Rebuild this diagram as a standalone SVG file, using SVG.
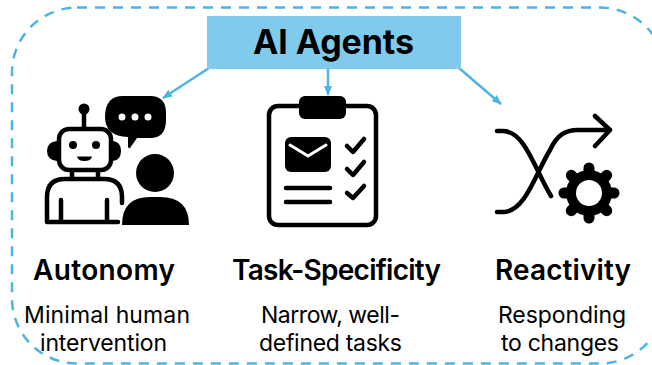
<svg xmlns="http://www.w3.org/2000/svg" width="652" height="365" viewBox="0 0 652 365">
<style>
.ln{fill:none;stroke:#4db5e6;stroke-width:2.500}
.ic{fill:none;stroke:#000;stroke-width:4.500;stroke-linecap:round;stroke-linejoin:round}
.f{fill:#000}
.w{fill:#fff}
.t{font-family:"Inter","Liberation Sans",sans-serif;text-anchor:middle;fill:#000}
.h{font-size:28px;font-weight:600}
.s{font-size:23px}
</style>
<defs><marker id="a" markerWidth="10" markerHeight="8" refX="9" refY="4" orient="auto" markerUnits="userSpaceOnUse"><path d="M0 0L10 4L0 8z" fill="#4db5e6"/></marker></defs>
<rect width="652" height="365" fill="#fff"/>
<rect id="frame" x="12" y="7.500" width="653" height="356" rx="65" fill="none" stroke="#4db5e6" stroke-width="2.500" stroke-dasharray="10 8"/>
<g id="connectors">
<path class="ln" d="M209 68L163 98" marker-end="url(#a)"/>
<path class="ln" d="M328 68V95" marker-end="url(#a)"/>
<path class="ln" d="M459 68L501 104" marker-end="url(#a)"/>
</g>
<g id="title"><rect x="207" y="16" width="254" height="53" fill="#80caec"/><text class="t" x="333.500" y="54" textLength="161" style="font-size:34px;font-weight:700">AI Agents</text></g>
<g id="autonomy">
<path class="f" d="M123 96H150Q166 96 166 113V120Q166 138 150 138H137L130 148Q128 149 128 146V137Q105 136 105 117Q105 96 123 96Z"/>
<g class="w"><circle cx="122" cy="117" r="3.500"/><circle cx="135" cy="117" r="3.500"/><circle cx="148" cy="117" r="3.500"/></g>
<circle class="f" cx="84" cy="109" r="5.500"/><path class="ic" d="M84 110V128"/>
<rect class="ic" x="59" y="129" width="52" height="41" rx="10"/>
<path class="f" d="M57 141V161Q47 160 47 151Q47 142 57 141ZM113 141V161Q121 160 121 151Q121 142 113 141Z"/>
<circle class="f" cx="73" cy="145" r="4"/><circle class="f" cx="96" cy="145" r="4"/><path class="f" d="M77 156.500H92Q91 161 84.500 161Q78 161 77 156.500Z"/>
<path class="ic" d="M72 172V179M98 172V179M118 222H47V197Q47 179 65 179H104Q122 179 122 197V203M61 200V222M107 200V222"/>
<circle class="f" cx="155" cy="173" r="19"/>
<path class="f" d="M122 225Q122 197 150 197H160Q189 197 189 225Z"/>
</g>
<g id="task">
<rect class="ic" x="269" y="106" width="107" height="119" rx="9"/>
<rect class="f" x="299" y="96" width="47" height="23" rx="6"/>
<rect class="f" x="285" y="137" width="46" height="35" rx="6"/>
<path d="M290 145L308 156L326 145" fill="none" stroke="#fff" stroke-width="3" stroke-linecap="round" stroke-linejoin="round"/>
<path class="ic" d="M347 146L353 152L364 139M347 169L353 175L364 162M347 193L353 198L364 186M286 188H330M286 202H330"/>
</g>
<g id="reactivity">
<path class="ic" d="M497 131H503C525 131 535 170 551 196M497 212H503C525 212 535 175 550 150C557 135 565 130 578 130H609M595 116L610 130L595 146"/>
<circle class="f" cx="589" cy="193" r="23"/>
<path d="M589 168V218M564 193H614M571.300 175.300L606.700 210.700M606.700 175.300L571.300 210.700" stroke="#000" stroke-width="11" stroke-linecap="round"/>
<circle class="w" cx="589" cy="193" r="13"/>
</g>
<g id="labels">
<text class="t h" x="104" y="280" textLength="142">Autonomy</text>
<text class="t s" x="107" y="323" textLength="166">Minimal human</text>
<text class="t s" x="103.500" y="351" textLength="127">intervention</text>
<text class="t h" x="336.500" y="280" textLength="209">Task-Specificity</text>
<text class="t s" x="330.500" y="323" textLength="139">Narrow, well-</text>
<text class="t s" x="330.500" y="351" textLength="143">defined tasks</text>
<text class="t h" x="563" y="280" textLength="136">Reactivity</text>
<text class="t s" x="562" y="323" textLength="128">Responding</text>
<text class="t s" x="560" y="351" textLength="118">to changes</text>
</g>
</svg>
